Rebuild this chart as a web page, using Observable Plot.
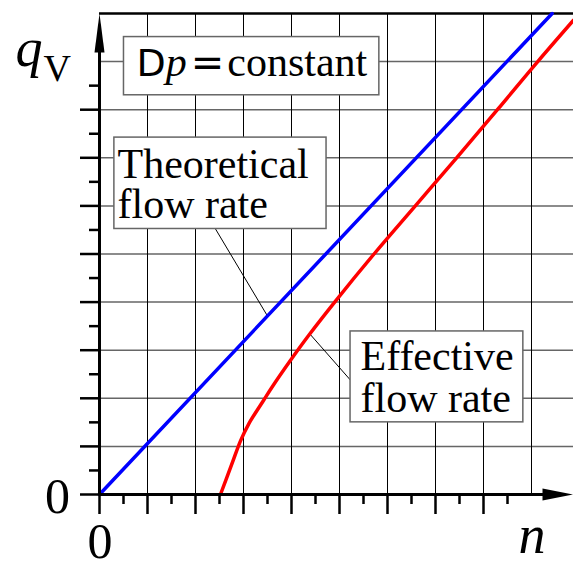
<!DOCTYPE html>
<html><head><meta charset="utf-8">
<script src="https://cdn.jsdelivr.net/npm/d3@7"></script>
<script src="https://cdn.jsdelivr.net/npm/@observablehq/plot@0.6"></script>
<style>html,body{margin:0;padding:0;background:#fff;overflow:hidden}</style>
</head><body><div id="chart"></div>
<script>
// ---- data ----
const nDomain = [0, 9.875];
const qDomain = [0, 10];
const gridN = [1, 2, 3, 4, 5, 6, 7, 8, 9];
const gridQ = [1, 2, 3, 4, 5, 6, 7, 8, 9];
const majorTicksN = [0, 1, 2, 3, 4, 5, 6, 7, 8];
const minorTicksN = [0.5, 1.5, 2.5, 3.5, 4.5, 5.5, 6.5, 7.5, 8.5];
const majorTicksQ = [0, 1, 2, 3, 4, 5, 6, 7, 8];
const minorTicksQ = [0.5, 1.5, 2.5, 3.5, 4.5, 5.5, 6.5, 7.5, 8.5];
const theoreticalN = [0, 9.43];
const theoreticalQ = [0, 10];
const effectiveN = [2.52, 2.76, 2.94, 3.11, 3.42, 3.60, 3.98, 4.36, 4.90, 5.72, 6.58, 7.44, 8.29, 9.13, 9.875];
const effectiveQ = [0, 0.64, 1.12, 1.47, 1.96, 2.24, 2.79, 3.31, 4.0, 5, 6, 7, 8, 9, 9.86];
const zeroLabel = ["0"];
const axisLabelX = ["n"];
const axisLabelY = ["qV"];
const labelConstant = ["Dp = constant"];
const labelTheoretical = ["Theoretical\nflow rate"];
const labelEffective = ["Effective\nflow rate"];

const theoretical = theoreticalN.map((n, i) => ({n, q: theoreticalQ[i]}));
const effective = effectiveN.map((n, i) => ({n, q: effectiveQ[i]}));

const arrowUp = {draw(ctx) { ctx.moveTo(0, 0); ctx.lineTo(5, 39); ctx.lineTo(-5, 39); ctx.closePath(); }};
const arrowRight = {draw(ctx) { ctx.moveTo(0, 0); ctx.lineTo(-31, 6); ctx.lineTo(-31, -6); ctx.closePath(); }};

const serif = "Liberation Serif";
const grey = "#666";
const noLabel = () => "";

const plot = Plot.plot({
  width: 573, height: 563,
  marginLeft: 99, marginRight: 0, marginTop: 13, marginBottom: 69,
  x: {domain: nDomain, axis: null},
  y: {domain: qDomain, axis: null},
  style: {fontFamily: serif, background: "white", color: "black"},
  marks: [
    Plot.ruleY(gridQ, {x1: nDomain[0], x2: nDomain[1], stroke: grey, strokeWidth: 1.5}),
    Plot.ruleX(gridN, {y1: qDomain[0], y2: qDomain[1], stroke: "black", strokeWidth: 1}),
    Plot.ruleY([qDomain[1]], {x1: nDomain[0], x2: nDomain[1], stroke: "black", strokeWidth: 2.5}),
    // leader lines
    Plot.link([0], {x1: 2.417, y1: 5.52, x2: 3.5, y2: 3.71, stroke: "black", strokeWidth: 1}),
    Plot.link([0], {x1: 4.38, y1: 3.34, x2: 5.23, y2: 2.376, stroke: "black", strokeWidth: 1}),
    // curves
    Plot.line(theoretical, {x: "n", y: "q", stroke: "#0000ff", strokeWidth: 3.5}),
    Plot.line(effective, {x: "n", y: "q", stroke: "#ff0000", strokeWidth: 3.5, curve: "catmull-rom"}),
    // annotation boxes
    Plot.rect([0], {x1: 0.51, x2: 5.83, y1: 8.30, y2: 9.51, fill: "white", stroke: grey, strokeWidth: 1.5}),
    Plot.rect([0], {x1: 0.31, x2: 4.73, y1: 5.52, y2: 7.42, fill: "white", stroke: grey, strokeWidth: 1.5}),
    Plot.rect([0], {x1: 5.23, x2: 8.83, y1: 1.50, y2: 3.39, fill: "white", stroke: grey, strokeWidth: 1.5}),
    Plot.text(labelConstant, {x: 0.771, y: 8.70, text: d => d, textAnchor: "start", lineAnchor: "bottom", fontSize: 42, fill: "black"}),
    Plot.text(labelTheoretical, {x: 0.375, y: 5.74, text: d => d, textAnchor: "start", lineAnchor: "bottom", fontSize: 42, lineHeight: 0.96, fill: "black"}),
    Plot.text(labelEffective, {x: 5.4375, y: 1.717, text: d => d, textAnchor: "start", lineAnchor: "bottom", fontSize: 42, lineHeight: 1.01, fill: "black"}),
    // axes
    Plot.ruleY([0], {x1: nDomain[0], x2: nDomain[1] - 0.3, stroke: "black", strokeWidth: 3}),
    Plot.ruleX([0], {y1: qDomain[0], y2: qDomain[1] - 0.3, stroke: "black", strokeWidth: 3}),
    Plot.dot([0], {x: nDomain[1], y: 0, symbol: arrowRight, fill: "black", stroke: "none"}),
    Plot.dot([0], {x: 0, y: qDomain[1], symbol: arrowUp, fill: "black", stroke: "none"}),
    Plot.axisX(majorTicksN, {anchor: "bottom", tickSize: 20, tickFormat: noLabel, label: null, strokeWidth: 2.5}),
    Plot.axisX(minorTicksN, {anchor: "bottom", tickSize: 10, tickFormat: noLabel, label: null, strokeWidth: 2.5}),
    Plot.axisY(majorTicksQ, {anchor: "left", tickSize: 19, tickFormat: noLabel, label: null, strokeWidth: 2.5}),
    Plot.axisY(minorTicksQ, {anchor: "left", tickSize: 10, tickFormat: noLabel, label: null, strokeWidth: 2.5}),
    // axis labels
    Plot.text(zeroLabel, {x: 0, y: 0, text: d => d, dx: -42, dy: 18, lineAnchor: "bottom", fontSize: 50, fill: "black"}),
    Plot.text(zeroLabel, {x: 0, y: 0, text: d => d, dx: 0.5, dy: 63, lineAnchor: "bottom", fontSize: 50, fill: "black"}),
    Plot.text(axisLabelX, {frameAnchor: "bottom-right", text: d => d, dx: -28, dy: 58, lineAnchor: "bottom", fontSize: 54, fontStyle: "italic", fill: "black"}),
    Plot.text(axisLabelY, {frameAnchor: "top-left", text: d => d, dx: -84, dy: 52, textAnchor: "start", lineAnchor: "bottom", fontSize: 54, fill: "black"})
  ]
});

// remove empty tick label texts
d3.select(plot).selectAll("text").filter(function() { return this.textContent === ""; }).remove();

// rich text: mixed fonts inside labels
d3.select(plot).selectAll("text").each(function() {
  const t = this.textContent;
  if (t === labelConstant[0]) {
    this.textContent = "";
    const s = d3.select(this);
    s.append("tspan").attr("font-family", "DejaVu Sans").attr("font-size", 38).text("D");
    s.append("tspan").attr("font-style", "italic").text("p");
    s.append("tspan").attr("font-family", "DejaVu Sans").attr("font-size", 40).attr("dx", 4).text("=");
    s.append("tspan").attr("dx", 3).text("constant");
  } else if (t === axisLabelY[0]) {
    this.textContent = "";
    const s = d3.select(this);
    s.append("tspan").attr("font-style", "italic").text("q");
    s.append("tspan").attr("font-size", 38).attr("dy", 15).attr("dx", 1).text("V");
  }
});

document.getElementById("chart").appendChild(plot);
</script>
</body></html>
